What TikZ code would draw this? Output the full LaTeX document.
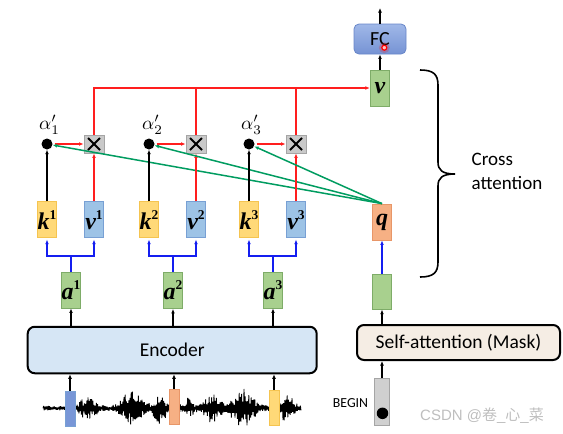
\documentclass[tikz,border=0pt]{standalone}
\usepackage{fontspec}
\setmainfont{Carlito}
\newfontfamily\lblfont{Liberation Serif}
\newfontfamily\wmfont{Liberation Sans}
\newfontfamily\cjk{Noto Sans CJK SC}
\usetikzlibrary{arrows.meta,calc}
\definecolor{kfill}{RGB}{255,217,120}
\definecolor{kdraw}{RGB}{245,196,80}
\definecolor{vfill}{RGB}{157,195,230}
\definecolor{vdraw}{RGB}{120,160,212}
\definecolor{gfill}{RGB}{168,208,142}
\definecolor{gdraw}{RGB}{126,172,104}
\definecolor{qfill}{RGB}{246,176,132}
\definecolor{qdraw}{RGB}{232,150,104}
\definecolor{xfill}{RGB}{201,201,201}
\definecolor{xdraw}{RGB}{165,165,165}
\definecolor{fctop}{RGB}{160,184,232}
\definecolor{fcbot}{RGB}{118,147,212}
\definecolor{fcdraw}{RGB}{104,134,200}
\definecolor{encfill}{RGB}{214,230,245}
\definecolor{safill}{RGB}{245,237,228}
\definecolor{begfill}{RGB}{208,208,208}
\definecolor{redln}{RGB}{255,30,30}
\definecolor{blueln}{RGB}{20,30,240}
\definecolor{greenln}{RGB}{0,156,96}
\definecolor{wmgray}{RGB}{190,190,190}
\definecolor{w1fill}{RGB}{120,150,215}
\newcommand\mlab[1]{{\lblfont\fontsize{24}{24}\selectfont\bfseries\itshape #1}}
\newcommand\mlabsup[2]{{\lblfont\fontsize{24}{24}\selectfont\bfseries\itshape #1\raisebox{0.42em}{\fontsize{13.5}{13.5}\selectfont\upshape #2}}}
\newcommand\alab[1]{\scalebox{1.9}{$\alpha'_{#1}$}}
\begin{document}
\begin{tikzpicture}[x=1pt,y=-1pt,
  >={Latex[length=4.5pt,width=3.8pt]},
  arr/.style={->, line width=1.7pt},
  redl/.style={redln, line width=1.7pt},
  bluel/.style={blueln, line width=2pt},
  cell/.style={draw, line width=0.8pt, inner sep=0pt, minimum width=19.5pt, minimum height=36pt},
  kbox/.style={cell, fill=kfill, draw=kdraw},
  vbox/.style={cell, fill=vfill, draw=vdraw},
  gbox/.style={cell, fill=gfill, draw=gdraw},
  qbox/.style={cell, fill=qfill, draw=qdraw},
  xbox/.style={draw=xdraw, fill=xfill, line width=0.8pt, inner sep=0pt, minimum width=20pt, minimum height=18pt,
    path picture={\draw[line width=1.8pt,black] ([shift={(-6pt,-6pt)}]path picture bounding box.center) -- ([shift={(6pt,6pt)}]path picture bounding box.center);
                  \draw[line width=1.8pt,black] ([shift={(-6pt,6pt)}]path picture bounding box.center) -- ([shift={(6pt,-6pt)}]path picture bounding box.center);}},
  dotn/.style={circle, fill=black, inner sep=0pt, minimum size=11pt},
  alabel/.style={inner sep=0pt, font=\fontsize{10}{10}\selectfont},
  bigbox/.style={draw=black, line width=2pt, rounded corners=7pt, inner sep=0pt, font=\fontsize{19.5}{19.5}\selectfont},
  wmark/.style={inner sep=0pt, minimum width=10pt, minimum height=35pt, line width=0.8pt},
  declare function={gs(\t)=exp(-min((\t)*(\t),25));
    env(\x)=2.5+10*gs((\x-88)/9)+18*gs((\x-132)/11)+13*gs((\x-160)/7)+8*gs((\x-188)/6)+12*gs((\x-212)/9)+18*gs((\x-243)/12)+12*gs((\x-287)/8);}
]
\useasboundingbox (0,0) rectangle (563,434);

% top part
\node[draw=fcdraw, line width=0.8pt, top color=fctop, bottom color=fcbot, rounded corners=5pt,
      minimum width=52pt, minimum height=30pt, inner sep=0pt, font=\fontsize{20}{20}\selectfont] (fc) at (380,39) {FC};
\coordinate (top) at (380,8);
\node[gbox] (vo) at (380,88) {\mlab{v}};

% alpha row
\node[dotn] (d1) at (47,144) {};
\node[dotn] (d2) at (149,144) {};
\node[dotn] (d3) at (249,144) {};
\node[alabel] (l1) at (49.5,124.5) {\alab{1}};
\node[alabel] (l2) at (152.5,124.5) {\alab{2}};
\node[alabel] (l3) at (251.5,124.5) {\alab{3}};
\node[xbox] (m1) at (94,144) {};
\node[xbox] (m2) at (196,144) {};
\node[xbox] (m3) at (296,144) {};

% k v row
\node[kbox] (k1) at (47,219.7) {\mlabsup{k}{1}};
\node[vbox] (v1) at (94,219.7) {\mlabsup{v}{1}};
\node[kbox] (k2) at (149,219.7) {\mlabsup{k}{2}};
\node[vbox] (v2) at (196,219.7) {\mlabsup{v}{2}};
\node[kbox] (k3) at (249,219.7) {\mlabsup{k}{3}};
\node[vbox] (v3) at (296,219.7) {\mlabsup{v}{3}};
\node[qbox] (q) at (382,222) {\mlab{q}};

% a row
\node[gbox] (a1) at (71,290) {\mlabsup{a}{1}};
\node[gbox] (a2) at (173,290.5) {\mlabsup{a}{2}};
\node[gbox] (a3) at (273,290) {\mlabsup{a}{3}};
\node[gbox, minimum height=35pt] (g) at (382,291.7) {};

% big boxes
\node[bigbox, fill=encfill, minimum width=289pt, minimum height=46.5pt] (enc) at (172.2,350) {Encoder};
\node[bigbox, fill=safill, minimum width=203pt, minimum height=35pt] (sa) at (458.5,342.5) {Self-attention (Mask)};

% BEGIN
\node[draw=xdraw, fill=begfill, line width=0.8pt, inner sep=0pt, minimum width=15.7pt, minimum height=46.7pt] (beg) at (382,401.7) {};
\node[circle, fill=black, inner sep=0pt, minimum size=11.5pt] (bd) at (382.5,413.3) {};
\node[inner sep=0pt, font=\fontsize{13.8}{13.8}\selectfont] (begl) at (350.5,403.3) {BEGIN};

% waveform
\pgfmathsetseed{11}
\draw[line width=0.85pt, line join=bevel] (43,408.3)
  \foreach \i in {1,...,430} { -- ({43+\i*0.6},{408.3+(1-2*mod(\i,2))*env(43+\i*0.6)*(0.25+0.75*rnd)}) };
\node[wmark, fill=w1fill, draw=vdraw] (w1) at (70,408.5) {};
\node[wmark, fill=qfill, draw=qdraw] (w2) at (174,406.8) {};
\node[wmark, fill=kfill, draw=kdraw] (w3) at (274,407.5) {};

% connectors: top
\draw[arr] (fc.north) -- (top);
\draw[arr] (vo.north) -- (vo.north |- fc.south);
\draw[arr, redl] (m1.north) |- (vo.west);
\draw[redl] (m2.north) -- (m2.north |- vo.west);
\draw[redl] (m3.north) -- (m3.north |- vo.west);

% dots to multiply boxes
\foreach \n in {1,2,3} {
  \draw[arr, redl, shorten <=2pt] (d\n) -- (m\n);
  \draw[arr] (k\n.north) -- (d\n.south);
  \draw[arr, redl] (v\n.north) -- (m\n.south);
  \draw[arr, greenln, line width=1.5pt] (q.north) -- (d\n);
}

% a to k,v branches
\foreach \n in {1,2,3} {
  \coordinate (b\n) at ($(a\n.north)+(0,-16)$);
  \draw[bluel] (a\n.north) -- (b\n);
  \draw[arr, bluel, shorten >=1.5pt] (b\n) -| (k\n.south);
  \draw[arr, bluel, shorten >=1.5pt] (b\n) -| (v\n.south);
  \draw[arr] (a\n.south |- enc.north) -- (a\n.south);
  \draw[arr] (w\n.north) -- (w\n.north |- enc.south);
}

% decoder side
\draw[arr, bluel] (g.north) -- (q.south);
\draw[arr] (g.south |- sa.north) -- (g.south);
\draw[arr] (beg.north) -- (beg.north |- sa.south);

% brace and label
\draw[line width=1.6pt] (420,70) .. controls (433,70) and (438,74) .. (438,85) -- (438,162)
  .. controls (438,170) and (442,174) .. (455,174)
  .. controls (442,174) and (438,178) .. (438,186) -- (438,262)
  .. controls (438,273) and (433,277) .. (420,277);
\node[anchor=west, inner sep=0pt, align=left, font=\fontsize{19}{24}\selectfont] (ca) at (471.5,171.3) {Cross\\attention};

% laser pointer mark
\fill[red, opacity=0.2] (384.3,47.7) circle (5.5pt);
\draw[red, line width=1.2pt, fill=red!25] (384.3,47.7) circle (2.5pt);

% watermark
\node[inner sep=0pt, text=wmgray, font=\fontsize{15}{15}\selectfont] (wm) at (482,416) {\wmfont CSDN @{\cjk 卷}\_{\cjk 心}\_{\cjk 菜}};
\end{tikzpicture}
\end{document}
